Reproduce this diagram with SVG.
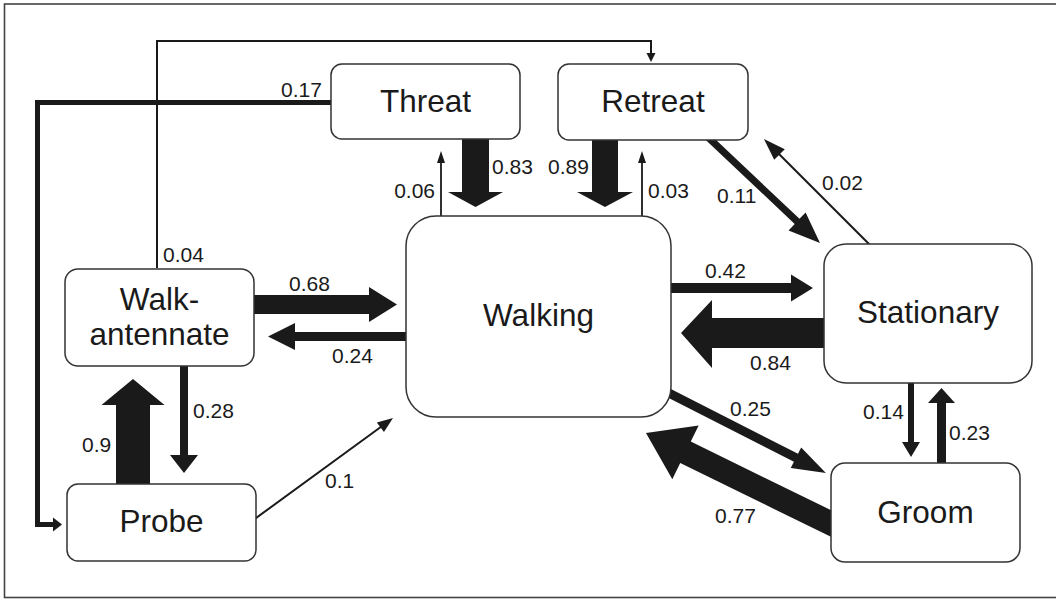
<svg xmlns="http://www.w3.org/2000/svg" width="1056" height="599" viewBox="0 0 1056 599">
<style>
.frame{fill:#fff;stroke:#444;stroke-width:1.6}
.box{fill:#fff;stroke:#333;stroke-width:1.5}
.nt{font-family:"Liberation Sans",Arial,sans-serif;font-size:31.5px;fill:#1a1a1a;text-anchor:middle}
.lbl{font-family:"Liberation Sans",Arial,sans-serif;font-size:21px;fill:#1a1a1a}
.ar{fill:#1a1a1a;stroke:none}
.ln{fill:none;stroke:#1a1a1a;stroke-linejoin:miter}
</style>
<rect class="frame" x="4.5" y="4" width="1060" height="593.5"/>
<g id="connectors">
  <!-- Walk-antennate -> Retreat 0.04 -->
  <polyline class="ln" stroke-width="2" points="157,268 157,41 651,41 651,54"/>
  <polygon class="ar" points="646.5,53 655.5,53 651,62"/>
  <!-- Threat -> Probe 0.17 -->
  <polyline class="ln" stroke-width="5" points="331,102.5 37.5,102.5 37.5,524.5 54,524.5"/>
  <polygon class="ar" points="53,517.5 62,524.5 53,531.5"/>
  <!-- Threat -> Walking 0.83 -->
  <polygon class="ar" points="462,139 489,139 489,192 503,192 475.5,207 448,192 462,192"/>
  <!-- Walking -> Threat 0.06 -->
  <line class="ln" stroke-width="1.8" x1="441" y1="216" x2="441" y2="160"/>
  <polygon class="ar" points="441,151 445,163 437,163"/>
  <!-- Retreat -> Walking 0.89 -->
  <polygon class="ar" points="592,140 618,140 618,192 633,192 605,207 577,192 592,192"/>
  <!-- Walking -> Retreat 0.03 -->
  <line class="ln" stroke-width="1.8" x1="642" y1="216" x2="642" y2="160"/>
  <polygon class="ar" points="642,151 646,163 638,163"/>
  <!-- Retreat -> Stationary 0.11 -->
  <path class="ar" transform="translate(707.6,136.9) rotate(43.36)" d="M0,-3.5 H123.1 V-12.4 L154.6,0 L123.1,12.4 V3.5 H0 Z"/>
  <!-- Stationary -> Retreat 0.02 -->
  <path class="ar" transform="translate(870,245) rotate(-135)" d="M0,-1 H128 V-7.5 L150,0 L128,7.5 V1 H0 Z"/>
  <!-- Walking -> Stationary 0.42 -->
  <polygon class="ar" points="668,283 791,283 791,274.5 813,288 791,301.5 791,293 668,293"/>
  <!-- Stationary -> Walking 0.84 -->
  <polygon class="ar" points="827,318 712,318 712,300 681,333 712,368 712,348 827,348"/>
  <!-- Walk-antennate -> Walking 0.68 -->
  <polygon class="ar" points="252,295 369,295 369,287 397,304.5 369,322 369,314 252,314"/>
  <!-- Walking -> Walk-antennate 0.24 -->
  <polygon class="ar" points="408,332 295,332 295,323 268,336.5 295,350 295,341 408,341"/>
  <!-- Probe -> Walk-antennate 0.9 -->
  <polygon class="ar" points="116,486 116,405 101.5,405 133,379 164.5,405 150,405 150,486"/>
  <!-- Walk-antennate -> Probe 0.28 -->
  <polygon class="ar" points="180,364 188,364 188,455 198,455 184,473 170,455 180,455"/>
  <!-- Probe -> Walking 0.1 -->
  <path class="ar" transform="translate(252.8,520.4) rotate(-36.13)" d="M0,-1 H158 V-6 L173.6,0 L158,6 V1 H0 Z"/>
  <!-- Walking -> Groom 0.25 -->
  <path class="ar" transform="translate(660,388.5) rotate(27)" d="M0,-4.5 H152.6 V-11.5 L186.2,0 L152.6,11.5 V4.5 H0 Z"/>
  <!-- Groom -> Walking 0.77 -->
  <path class="ar" transform="translate(841.8,528.8) rotate(206.07)" d="M0,-12 H174 V-30 L218,0 L174,30 V12 H0 Z"/>
  <!-- Stationary -> Groom 0.14 -->
  <polygon class="ar" points="908,381 914,381 914,442 920,442 911,457 902,442 908,442"/>
  <!-- Groom -> Stationary 0.23 -->
  <polygon class="ar" points="937,465 937,403 928,403 941.5,388 955,403 946,403 946,465"/>
  <!-- labels -->
  <text class="lbl" x="281" y="97">0.17</text>
  <text class="lbl" x="163" y="262">0.04</text>
  <text class="lbl" x="492" y="174">0.83</text>
  <text class="lbl" x="435" y="198" text-anchor="end">0.06</text>
  <text class="lbl" x="548" y="174">0.89</text>
  <text class="lbl" x="648" y="198">0.03</text>
  <text class="lbl" x="717" y="203">0.11</text>
  <text class="lbl" x="822" y="190">0.02</text>
  <text class="lbl" x="705" y="278">0.42</text>
  <text class="lbl" x="750" y="370">0.84</text>
  <text class="lbl" x="289" y="291">0.68</text>
  <text class="lbl" x="332" y="363">0.24</text>
  <text class="lbl" x="82" y="452">0.9</text>
  <text class="lbl" x="193" y="418">0.28</text>
  <text class="lbl" x="325" y="488">0.1</text>
  <text class="lbl" x="730" y="416">0.25</text>
  <text class="lbl" x="715" y="523">0.77</text>
  <text class="lbl" x="863" y="419">0.14</text>
  <text class="lbl" x="949" y="440">0.23</text>
</g>
<g id="threat">
  <rect class="box" x="331" y="64" width="189" height="75" rx="11"/>
  <text class="nt" x="425.5" y="112">Threat</text>
</g>
<g id="retreat">
  <rect class="box" x="558" y="64" width="190" height="76" rx="11"/>
  <text class="nt" x="653" y="112">Retreat</text>
</g>
<g id="walking">
  <rect class="box" x="406" y="216" width="265" height="201" rx="30"/>
  <text class="nt" x="538.5" y="326">Walking</text>
</g>
<g id="stationary">
  <rect class="box" x="824" y="244" width="208" height="139" rx="22"/>
  <text class="nt" x="928" y="323">Stationary</text>
</g>
<g id="groom">
  <rect class="box" x="831" y="463" width="189" height="99" rx="14"/>
  <text class="nt" x="925.5" y="523">Groom</text>
</g>
<g id="walk-antennate">
  <rect class="box" x="65" y="269" width="189" height="97" rx="13"/>
  <text class="nt" x="159.5" y="310">Walk-</text>
  <text class="nt" x="159.5" y="345">antennate</text>
</g>
<g id="probe">
  <rect class="box" x="67" y="484" width="189" height="77" rx="11"/>
  <text class="nt" x="161.5" y="532">Probe</text>
</g>
</svg>
